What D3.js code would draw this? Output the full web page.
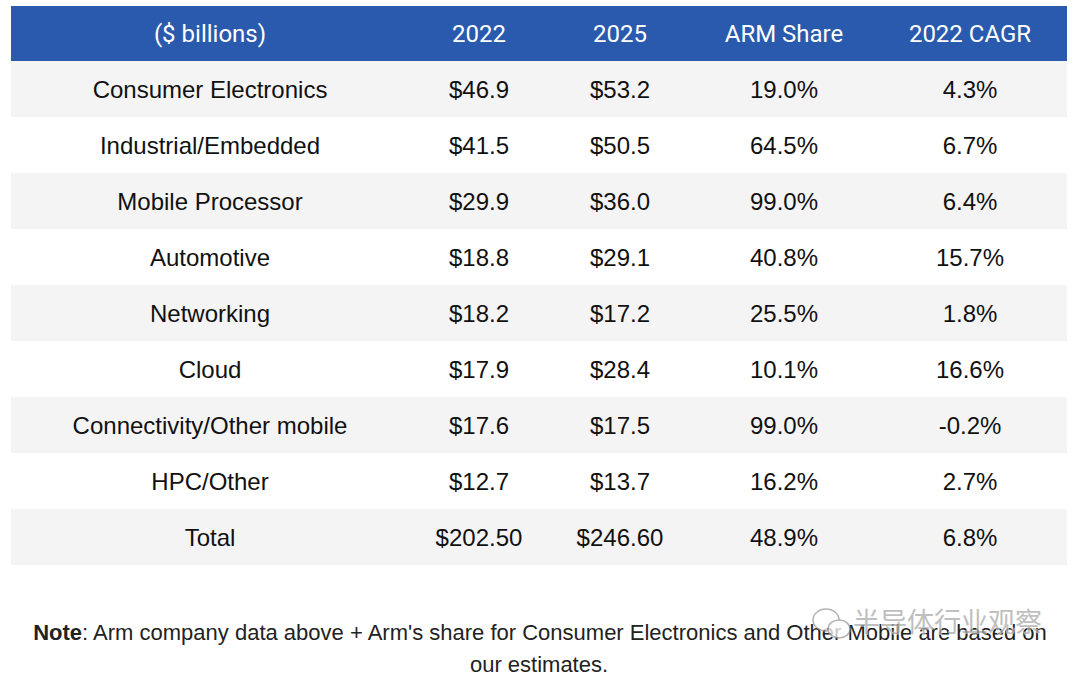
<!DOCTYPE html>
<html>
<head>
<meta charset="utf-8">
<script src="https://cdn.jsdelivr.net/npm/d3@7"></script>
<style>
  html, body { margin: 0; padding: 0; background: #fff; }
  svg { display: block; }
  .head { font-family: Roboto, "Noto Sans", sans-serif; font-size: 24px; fill: #fff; }
  .cell { font-family: "Liberation Sans", Arial, sans-serif; font-size: 24px; fill: #111; }
  .note { font-family: "Liberation Sans", Arial, sans-serif; font-size: 22px; fill: #222; }
</style>
</head>
<body>
<svg id="chart"></svg>
<script>
// table content
const headers = ["($ billions)", "2022", "2025", "ARM Share", "2022 CAGR"];
const categories = ["Consumer Electronics", "Industrial/Embedded", "Mobile Processor", "Automotive",
  "Networking", "Cloud", "Connectivity/Other mobile", "HPC/Other", "Total"];
const values2022 = ["$46.9", "$41.5", "$29.9", "$18.8", "$18.2", "$17.9", "$17.6", "$12.7", "$202.50"];
const values2025 = ["$53.2", "$50.5", "$36.0", "$29.1", "$17.2", "$28.4", "$17.5", "$13.7", "$246.60"];
const armShare = ["19.0%", "64.5%", "99.0%", "40.8%", "25.5%", "10.1%", "99.0%", "16.2%", "48.9%"];
const cagr = ["4.3%", "6.7%", "6.4%", "15.7%", "1.8%", "16.6%", "-0.2%", "2.7%", "6.8%"];
const noteLine1 = "Arm company data above + Arm's share for Consumer Electronics and Other Mobile are based on";
const noteLine2 = "our estimates.";
const watermark = "半导体行业观察";

const W = 1080, H = 676;
const left = 11, right = 1067, headTop = 6, headBottom = 61, rowH = 56;

const svg = d3.select("#chart").attr("width", W).attr("height", H);

const cols = d3.range(headers.length);
const xCol = d3.scaleOrdinal().domain(cols).range([210, 479, 620, 784, 970]);
const yRow = d3.scaleBand()
  .domain(d3.range(categories.length))
  .range([headBottom, headBottom + rowH * categories.length]);

// header band
svg.append("rect")
  .attr("x", left).attr("y", headTop)
  .attr("width", right - left).attr("height", headBottom - headTop)
  .attr("fill", "#2a5aad");

svg.selectAll(".head")
  .data(headers)
  .join("text")
  .attr("class", "head")
  .attr("x", (d, i) => xCol(i))
  .attr("y", (headTop + headBottom) / 2)
  .attr("dy", "0.36em")
  .attr("text-anchor", "middle")
  .text(d => d);

// rows
const rows = categories.map((c, i) => [c, values2022[i], values2025[i], armShare[i], cagr[i]]);

svg.selectAll(".stripe")
  .data(rows)
  .join("rect")
  .attr("class", "stripe")
  .attr("x", left)
  .attr("y", (d, i) => yRow(i))
  .attr("width", right - left)
  .attr("height", yRow.bandwidth())
  .attr("fill", (d, i) => i % 2 === 0 ? "#f4f4f4" : "#ffffff");

const rowG = svg.selectAll(".row")
  .data(rows)
  .join("g")
  .attr("class", "row")
  .attr("transform", (d, i) => `translate(0,${yRow(i) + yRow.bandwidth() / 2})`);

rowG.selectAll("text")
  .data(d => d)
  .join("text")
  .attr("class", "cell")
  .attr("x", (d, i) => xCol(i))
  .attr("dy", "0.36em")
  .attr("text-anchor", "middle")
  .text(d => d);

// note
const note = svg.append("text")
  .attr("class", "note")
  .attr("x", 540)
  .attr("y", 632)
  .attr("dy", "0.36em")
  .attr("text-anchor", "middle");
note.append("tspan").attr("font-weight", "bold").text("Note");
note.append("tspan").text(": " + noteLine1);

svg.append("text")
  .attr("class", "note")
  .attr("x", 539)
  .attr("y", 664)
  .attr("dy", "0.36em")
  .attr("text-anchor", "middle")
  .text(noteLine2);

// watermark
const wm = svg.append("g").attr("opacity", 0.75);
wm.append("ellipse").attr("cx", 826).attr("cy", 620).attr("rx", 13).attr("ry", 11)
  .attr("fill", "#fff").attr("stroke", "#999").attr("stroke-width", 1.5);
wm.append("ellipse").attr("cx", 839).attr("cy", 629).attr("rx", 11).attr("ry", 9)
  .attr("fill", "#fff").attr("stroke", "#999").attr("stroke-width", 1.5);
wm.append("text")
  .attr("x", 853).attr("y", 622)
  .attr("dy", "0.36em")
  .attr("font-family", "'Noto Sans CJK SC', sans-serif")
  .attr("font-size", 27)
  .attr("fill", "#aaa")
  .attr("stroke", "#fff").attr("stroke-width", 1)
  .attr("paint-order", "stroke")
  .text(watermark);
</script>
</body>
</html>
